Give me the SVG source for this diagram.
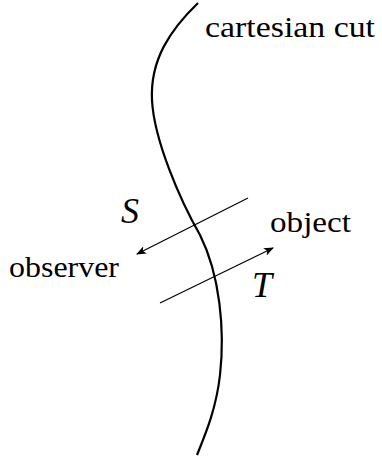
<svg xmlns="http://www.w3.org/2000/svg" width="382" height="459" viewBox="0 0 382 459">
<style>
.lbl{font-family:"Liberation Serif","Times New Roman",serif;font-size:30px;fill:#000}
.sym{font-family:"Liberation Serif","Times New Roman",serif;font-style:italic;font-size:36px;fill:#000}
.arr{stroke:#000;stroke-width:1.2;fill:none;marker-end:url(#ah)}
.cut{stroke:#000;stroke-width:2.2;fill:none}
</style>
<defs>
<marker id="ah" viewBox="0 0 10 8" refX="9" refY="4" markerWidth="10" markerHeight="8" markerUnits="userSpaceOnUse" orient="auto">
<path d="M0,0 L10,4 L0,8 L2.5,4 Z" fill="#000"/>
</marker>
</defs>
<g id="cut">
<path class="cut" d="M198,3 C170,30 150,60 152,100 C154,140 180,200 200,235 C220,275 225,330 220,375 C216,410 205,435 197,455"/>
<text class="lbl" x="205" y="37" textLength="170" lengthAdjust="spacingAndGlyphs">cartesian cut</text>
</g>
<g id="observer">
<text class="lbl" x="9" y="277" textLength="110" lengthAdjust="spacingAndGlyphs">observer</text>
</g>
<g id="object">
<text class="lbl" x="270" y="232" textLength="81" lengthAdjust="spacingAndGlyphs">object</text>
</g>
<g id="connectors">
<line class="arr" x1="248" y1="198" x2="137" y2="254"/>
<line class="arr" x1="160" y1="303" x2="273" y2="248"/>
<text class="sym" x="121" y="223">S</text>
<text class="sym" x="252" y="297">T</text>
</g>
</svg>
